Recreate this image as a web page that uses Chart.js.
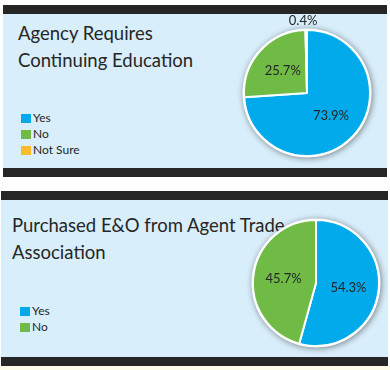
<!DOCTYPE html>
<html>
<head>
<meta charset="utf-8">
<script src="https://cdn.jsdelivr.net/npm/chart.js@4"></script>
<style>
  html, body { margin: 0; padding: 0; background: #fff; }
  body { width: 390px; height: 370px; position: relative; overflow: hidden; font-family: Lato, "Open Sans", sans-serif; color: #262626; }
  .panel { position: absolute; background: #d8eefa; border-top: 9px solid #262626; border-bottom: 9px solid #262626; }
  #p1 { left: 3px; top: 5px; width: 384px; height: 154px; }
  #p2 { left: 1px; top: 191px; width: 387px; height: 157px; }
  .title { position: absolute; font-size: 18.5px; line-height: 27px; white-space: nowrap; }
  .legend { position: absolute; font-size: 12px; line-height: 16px; }
  .legend div { display: flex; align-items: center; height: 16px; }
  .legend span.sw { display: inline-block; width: 10px; height: 9px; margin-right: 2px; }
  canvas { position: absolute; }
  #strip { position: absolute; left: 0; top: 366px; width: 390px; height: 4px; background: #fffde8; }
</style>
</head>
<body>
<div class="panel" id="p1">
  <div class="title" id="t1" style="left:15px; top:6px;"></div>
  <div class="legend" id="l1" style="left:18px; top:96px;"></div>
</div>
<div class="panel" id="p2">
  <div class="title" id="t2" style="left:11px; top:12px;"></div>
  <div class="legend" id="l2" style="left:19px; top:103px;"></div>
</div>
<div id="strip"></div>
<canvas id="c1" width="170" height="170" style="left:222px; top:8px;"></canvas>
<canvas id="c2" width="170" height="170" style="left:231px; top:198px;"></canvas>
<script>
// chart 1
const title1 = ["Agency Requires", "Continuing Education"];
const labels1 = ["Yes", "No", "Not Sure"];
const values1 = [73.9, 25.7, 0.4];

// chart 2
const title2 = ["Purchased E&O from Agent Trade", "Association"];
const labels2 = ["Yes", "No"];
const values2 = [54.3, 45.7];

const colors = ["#00aaeb", "#6fbb45", "#fdba2b"];

function fillText(id, lines) {
  document.getElementById(id).innerHTML = lines.join("<br>");
}
function fillLegend(id, labels) {
  const el = document.getElementById(id);
  labels.forEach((l, i) => {
    const row = document.createElement("div");
    const sw = document.createElement("span");
    sw.className = "sw";
    sw.style.background = colors[i];
    row.appendChild(sw);
    row.appendChild(document.createTextNode(l));
    el.appendChild(row);
  });
}
fillText("t1", title1);
fillText("t2", title2);
fillLegend("l1", labels1);
fillLegend("l2", labels2);

// shadow under the pie + percent labels
const pieExtras = {
  id: "pieExtras",
  beforeDatasetsDraw(chart) {
    const arc = chart.getDatasetMeta(0).data[0];
    if (!arc) return;
    const ctx = chart.ctx;
    ctx.save();
    ctx.shadowColor = "rgba(0,0,0,0.45)";
    ctx.shadowBlur = 6;
    ctx.shadowOffsetX = 1;
    ctx.shadowOffsetY = 1;
    ctx.fillStyle = "#fff";
    ctx.beginPath();
    ctx.arc(arc.x, arc.y, arc.outerRadius + 1.5, 0, Math.PI * 2);
    ctx.fill();
    ctx.restore();
  },
  afterDatasetsDraw(chart) {
    const ctx = chart.ctx;
    const vals = chart.data.datasets[0].data;
    ctx.save();
    ctx.font = "13px Lato, 'Open Sans', sans-serif";
    ctx.fillStyle = "#262626";
    ctx.textAlign = "center";
    ctx.textBaseline = "middle";
    chart.getDatasetMeta(0).data.forEach((a, i) => {
      const mid = (a.startAngle + a.endAngle) / 2;
      let r = a.outerRadius * 0.52;
      if (vals[i] < 3) r = a.outerRadius + 9;
      ctx.fillText(vals[i].toFixed(1) + "%", a.x + Math.cos(mid) * r - (vals[i] < 3 ? 3 : 0), a.y + Math.sin(mid) * r);
    });
    ctx.restore();
  }
};

function makePie(id, labels, values) {
  return new Chart(document.getElementById(id), {
    type: "pie",
    data: {
      labels: labels,
      datasets: [{
        data: values,
        backgroundColor: colors.slice(0, values.length),
        borderColor: "#ffffff",
        borderWidth: 2
      }]
    },
    options: {
      responsive: false,
      animation: false,
      layout: { padding: 21 },
      plugins: { legend: { display: false }, tooltip: { enabled: false } }
    },
    plugins: [pieExtras]
  });
}
makePie("c1", labels1, values1);
makePie("c2", labels2, values2);
</script>
</body>
</html>
